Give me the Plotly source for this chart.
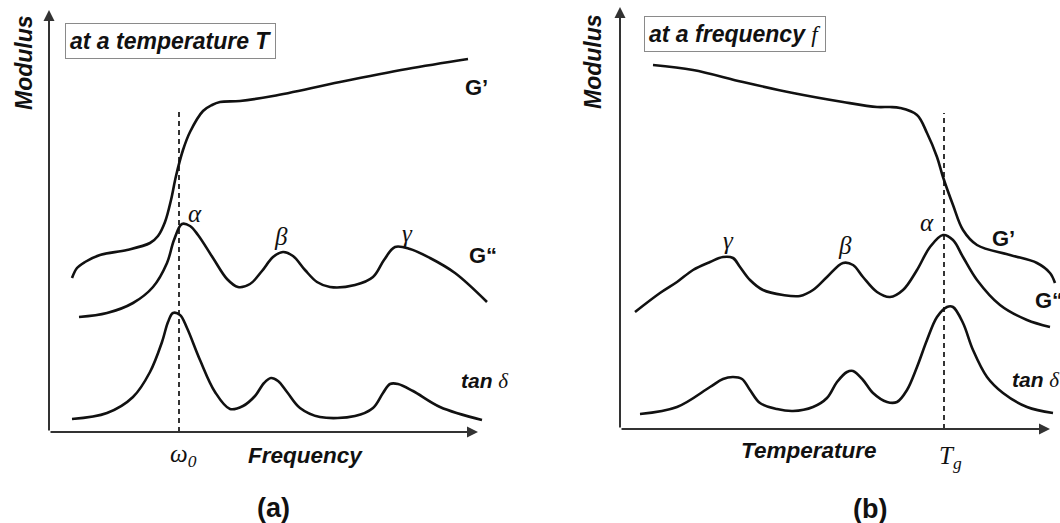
import plotly.graph_objects as go

# ---------------- Panel (a): modulus vs frequency, at a temperature T (schematic units) ----------------
a_Gp_x = [23, 28, 36, 51, 78, 101, 109, 116, 122, 127, 134, 141, 154, 163, 171, 191, 224, 291, 358, 419]
a_Gp_y = [154, 164, 170, 177, 182, 189, 196, 210, 232, 256, 282, 300, 321, 327, 330, 331, 336, 350, 363, 373]
a_Gpp_x = [30, 58, 84, 104, 118, 125, 133, 141, 149, 164, 178, 189, 201, 213, 224, 234, 244, 256, 268, 281,
           306, 324, 335, 346, 361, 381, 406, 438]
a_Gpp_y = [115, 119, 129, 145, 169, 192, 208, 206, 197, 174, 153, 145, 148, 161, 175, 180, 176, 162, 150, 145,
           147, 155, 172, 185, 183, 174, 159, 130]
a_tan_x = [23, 58, 84, 101, 113, 119, 124, 131, 138, 151, 166, 181, 194, 206, 215, 222, 229, 238, 251, 271,
           306, 324, 334, 341, 349, 364, 391, 433]
a_tan_y = [13, 19, 35, 60, 90, 110, 119, 117, 104, 72, 40, 23, 26, 36, 49, 54, 51, 40, 24, 15,
           16, 24, 39, 48, 48, 41, 25, 12]
a_omega0 = 130
a_marker_top = 320

# ---------------- Panel (b): modulus vs temperature, at a frequency f (schematic units) ----------------
b_Gp_x = [33, 73, 123, 173, 223, 257, 270, 280, 297, 307, 317, 323, 333, 343, 357, 390, 417, 430, 435]
b_Gp_y = [364, 359, 347, 336, 327, 322, 322, 321, 314, 296, 272, 252, 224, 199, 184, 174, 166, 156, 146]
b_Gpp_x = [15, 40, 57, 73, 90, 103, 113, 120, 130, 143, 163, 180, 193, 207, 223, 233, 243, 257, 270, 283,
           297, 310, 323, 333, 343, 357, 380, 407, 430]
b_Gpp_y = [117, 136, 147, 159, 167, 172, 171, 162, 149, 139, 134, 133, 139, 152, 166, 164, 152, 137, 132, 139,
           159, 182, 194, 189, 172, 149, 124, 109, 102]
b_tan_x = [20, 57, 90, 103, 113, 122, 130, 140, 157, 173, 193, 207, 217, 227, 233, 243, 253, 267, 277, 287,
           297, 307, 317, 327, 333, 343, 353, 367, 383, 407, 433]
b_tan_y = [15, 22, 42, 50, 52, 50, 39, 26, 20, 18, 22, 31, 47, 57, 58, 49, 36, 27, 27, 39,
           62, 89, 112, 122, 122, 106, 79, 52, 36, 22, 16]
b_Tg = 324
b_marker_top = 316

SANS = "Arial, 'Liberation Sans', sans-serif"
SERIF = "'Liberation Serif', 'Times New Roman', serif"
INK = "#111111"
AXIS = "#333333"

fig = go.Figure()

def curve(x, y, xa, ya):
    fig.add_trace(go.Scatter(x=x, y=y, mode="lines", xaxis=xa, yaxis=ya,
                             line=dict(color=INK, width=2.6, shape="spline", smoothing=1.0),
                             hoverinfo="skip", showlegend=False))

curve(a_Gp_x, a_Gp_y, "x", "y")
curve(a_Gpp_x, a_Gpp_y, "x", "y")
curve(a_tan_x, a_tan_y, "x", "y")
curve(b_Gp_x, b_Gp_y, "x2", "y2")
curve(b_Gpp_x, b_Gpp_y, "x2", "y2")
curve(b_tan_x, b_tan_y, "x2", "y2")

# dashed marker lines
fig.add_trace(go.Scatter(x=[a_omega0, a_omega0], y=[0, a_marker_top], mode="lines", xaxis="x", yaxis="y",
                         line=dict(color=INK, width=1.7, dash="5px,4px"), hoverinfo="skip", showlegend=False))
fig.add_trace(go.Scatter(x=[b_Tg, b_Tg], y=[0, b_marker_top], mode="lines", xaxis="x2", yaxis="y2",
                         line=dict(color=INK, width=1.7, dash="5px,4px"), hoverinfo="skip", showlegend=False))

ann = []

def arrow(xr, yr, x, y):
    ann.append(dict(xref=xr, yref=yr, axref=xr, ayref=yr, x=x, y=y, ax=0, ay=0, text="",
                    showarrow=True, arrowhead=2, arrowsize=1.1, arrowwidth=2, arrowcolor=AXIS, standoff=0))

arrow("x", "y", 0, 422)
arrow("x", "y", 429, 0)
arrow("x2", "y2", 0, 422)
arrow("x2", "y2", 430, 0)

def label(xr, yr, x, y, text, size=22, family=SANS, xanchor="center", angle=0, **kw):
    ann.append(dict(xref=xr, yref=yr, x=x, y=y, text=text, showarrow=False, xanchor=xanchor,
                    yanchor="middle", textangle=angle, font=dict(family=family, size=size, color=INK), **kw))

bi = lambda s: "<b><i>%s</i></b>" % s
serif_i = lambda s: "<span style=\"font-family:'Liberation Serif', serif\"><i>%s</i></span>" % s

# panel (a) text
label("x", "y", -25, 369, bi("Modulus"), size=23, angle=-90)
label("x", "y", 121.5, 391, bi("at a temperature T"), size=23,
      bordercolor="#8a8a8a", borderwidth=1, borderpad=4)
label("x", "y", 427, 345, "<b>G’</b>")
label("x", "y", 434, 177, "<b>G“</b>")
label("x", "y", 410, 51, bi("tan") + " " + serif_i("δ"), size=21, xanchor="left")
label("x", "y", 146, 219, "<i>α</i>", size=25, family=SERIF)
label("x", "y", 232, 196, "<i>β</i>", size=25, family=SERIF)
label("x", "y", 358, 199, "<i>γ</i>", size=25, family=SERIF)
label("x", "y", 134, -23, "<i>ω<sub>0</sub></i>", size=25, family=SERIF)
label("x", "y", 256, -23, bi("Frequency"), size=22.5)
label("x", "y", 224, -76, "<b>(a)</b>", size=27)

# panel (b) text
label("x2", "y2", -27, 367, bi("Modulus"), size=23, angle=-90)
label("x2", "y2", 114.5, 395.5, bi("at a frequency ") + serif_i("f"), size=23,
      bordercolor="#8a8a8a", borderwidth=1, borderpad=4)
label("x2", "y2", 307, 207, "<i>α</i>", size=25, family=SERIF)
label("x2", "y2", 225, 184, "<i>β</i>", size=25, family=SERIF)
label("x2", "y2", 108, 189, "<i>γ</i>", size=25, family=SERIF)
label("x2", "y2", 383, 191, "<b>G’</b>")
label("x2", "y2", 413, 129, "<b>G“</b>", xanchor="left")
label("x2", "y2", 390, 49, bi("tan") + " " + serif_i("δ"), size=21, xanchor="left")
label("x2", "y2", 188, -21, bi("Temperature"), size=22.5)
label("x2", "y2", 330, -28, "<i>T<sub>g</sub></i>", size=25, family=SERIF)
label("x2", "y2", 250, -80, "<b>(b)</b>", size=27)

hidden = dict(visible=False, showgrid=False, zeroline=False, fixedrange=True)
fig.update_layout(
    width=1060, height=523,
    margin=dict(l=0, r=0, t=0, b=0),
    paper_bgcolor="white", plot_bgcolor="white",
    showlegend=False,
    xaxis=dict(domain=[0, 0.5], range=[-49, 481], **hidden),
    yaxis=dict(domain=[0, 1], range=[-91, 432], **hidden),
    xaxis2=dict(domain=[0.5, 1], range=[-90, 440], anchor="y2", **hidden),
    yaxis2=dict(domain=[0, 1], range=[-94, 429], anchor="x2", **hidden),
    annotations=ann,
)

fig.write_html("out.html", config={"displayModeBar": False})
